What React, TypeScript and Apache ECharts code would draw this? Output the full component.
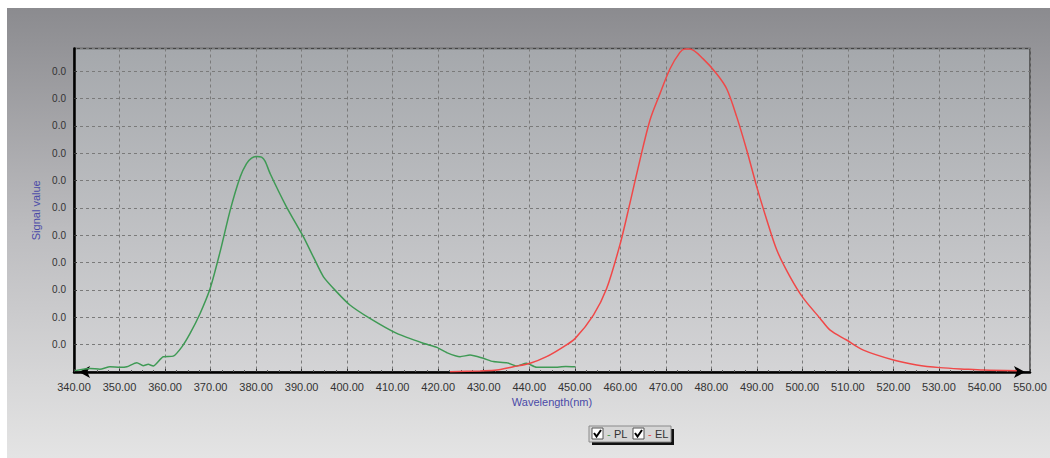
import React, { useEffect, useRef } from "react";
import * as echarts from "echarts";

// ---- Data ----
const plWavelengths = [340.2, 343.5, 345.7, 347.9, 350.1, 351.6, 353.8, 355.2, 356.3, 357.4, 359.6, 361.8, 363.7, 365.5, 367.7, 369.9, 372.1, 374.3, 376.5, 377.9, 379.0, 380.1, 381.2, 382.0, 383.1, 386.7, 390.4, 392.6, 394.8, 397.7, 400.6, 405.0, 410.9, 416.7, 419.7, 422.0, 424.8, 427.0, 429.9, 432.1, 435.1, 437.2, 439.4, 441.6, 445.3, 448.0, 450.1];
const plValues = [0.05, 0.13, 0.1, 0.19, 0.17, 0.19, 0.34, 0.23, 0.28, 0.22, 0.56, 0.58, 0.92, 1.41, 2.14, 3.05, 4.4, 5.91, 7.13, 7.62, 7.82, 7.88, 7.86, 7.7, 7.25, 6.03, 4.94, 4.2, 3.48, 2.93, 2.45, 1.96, 1.41, 1.05, 0.9, 0.7, 0.56, 0.62, 0.5, 0.38, 0.34, 0.22, 0.32, 0.17, 0.17, 0.2, 0.19];

const elWavelengths = [422.6, 429.2, 432.9, 436.5, 440.2, 443.8, 447.5, 450.1, 454.1, 457.0, 460.0, 462.1, 464.3, 466.5, 468.7, 470.9, 473.1, 474.2, 475.3, 478.2, 481.2, 483.4, 485.6, 487.8, 490.0, 492.2, 494.4, 497.3, 500.2, 503.9, 506.1, 509.7, 513.4, 520.0, 525.1, 530.2, 536.1, 539.8, 547.1];
const elValues = [0.01, 0.04, 0.07, 0.19, 0.32, 0.56, 0.92, 1.23, 2.08, 3.05, 4.7, 6.16, 7.74, 9.2, 10.17, 11.08, 11.69, 11.81, 11.81, 11.45, 10.9, 10.35, 9.32, 8.1, 6.76, 5.55, 4.45, 3.48, 2.7, 1.96, 1.53, 1.17, 0.8, 0.44, 0.26, 0.16, 0.1, 0.07, 0.05];

const xMin = 340;
const xMax = 550;
const xInterval = 10;
const yMin = 0;
const yMax = 11.83;
const yInterval = 1;

const seriesNames = ["PL", "EL"];
const seriesColors = ["#3f9a55", "#f04848"];
const xAxisName = "Wavelength(nm)";
const yAxisName = "Signal value";

const FONT = "'Liberation Sans', Arial, sans-serif";

export default function App() {
  const ref = useRef<HTMLDivElement>(null);

  useEffect(() => {
    document.body.style.margin = "0";
    const chart = echarts.init(ref.current!, null, { renderer: "svg" });

    const pl = plWavelengths.map((w, i) => [w, plValues[i]]);
    const el = elWavelengths.map((w, i) => [w, elValues[i]]);

    const checkbox = (x: number) => [
      {
        type: "rect",
        shape: { x, y: 428, width: 11, height: 11 },
        style: { fill: "#ffffff", stroke: "#555", lineWidth: 1 },
      },
      {
        type: "polyline",
        shape: { points: [[x + 2, 433], [x + 4.5, 436.5], [x + 9, 430]] },
        style: { stroke: "#000", lineWidth: 2, fill: "none" },
      },
    ];

    chart.setOption({
      animation: false,
      backgroundColor: "#ffffff",
      graphic: [
        {
          type: "rect",
          z: -10,
          silent: true,
          shape: { x: 7, y: 8, width: 1043, height: 450 },
          style: {
            fill: new echarts.graphic.LinearGradient(0, 0, 0, 1, [
              { offset: 0, color: "#8b8b8f" },
              { offset: 0.5, color: "#bdbdc0" },
              { offset: 1, color: "#e4e4e4" },
            ]),
          },
        },
        // legend box
        {
          type: "rect",
          shape: { x: 592, y: 429, width: 82, height: 16 },
          style: { fill: "#111" },
        },
        {
          type: "rect",
          shape: { x: 589, y: 426, width: 82, height: 16 },
          style: { fill: "#d6d6d6", stroke: "#8a8a8a", lineWidth: 1 },
        },
        ...checkbox(592),
        {
          type: "text",
          x: 607,
          y: 434,
          style: { text: "-", fill: seriesColors[0], font: `11px ${FONT}`, verticalAlign: "middle" },
        },
        {
          type: "text",
          x: 614,
          y: 434,
          style: { text: seriesNames[0], fill: "#333", font: `11px ${FONT}`, verticalAlign: "middle" },
        },
        ...checkbox(633),
        {
          type: "text",
          x: 648,
          y: 434,
          style: { text: "-", fill: seriesColors[1], font: `11px ${FONT}`, verticalAlign: "middle" },
        },
        {
          type: "text",
          x: 655,
          y: 434,
          style: { text: seriesNames[1], fill: "#333", font: `11px ${FONT}`, verticalAlign: "middle" },
        },
      ],
      grid: {
        left: 74,
        top: 48.5,
        width: 956,
        height: 323.5,
        show: true,
        borderColor: "#444",
        borderWidth: 1.5,
        backgroundColor: new echarts.graphic.LinearGradient(0, 0, 0, 1, [
          { offset: 0, color: "#a5a8ac" },
          { offset: 1, color: "#d4d4d6" },
        ]),
      },
      xAxis: {
        type: "value",
        min: xMin,
        max: xMax,
        interval: xInterval,
        name: xAxisName,
        nameLocation: "middle",
        nameGap: 23,
        nameTextStyle: { color: "#4a4aa8", fontSize: 11, fontFamily: FONT },
        axisLine: {
          show: true,
          onZero: false,
          symbol: ["arrow", "arrow"],
          symbolSize: [9, 11],
          symbolOffset: [5, -5],
          lineStyle: { color: "#000", width: 2.5 },
        },
        axisTick: { show: true, inside: true, length: 3, lineStyle: { color: "#333" } },
        minorTick: { show: true, splitNumber: 4, length: 2, lineStyle: { color: "#555" } },
        axisLabel: {
          color: "#333",
          fontSize: 11,
          fontFamily: FONT,
          margin: 9,
          formatter: (v: number) => v.toFixed(2),
        },
        splitLine: { show: true, lineStyle: { color: "#7a7a7a", type: [3, 3], width: 1 } },
      },
      yAxis: {
        type: "value",
        min: yMin,
        max: yMax,
        interval: yInterval,
        name: yAxisName,
        nameLocation: "middle",
        nameGap: 20,
        nameTextStyle: { color: "#4a4aa8", fontSize: 11, fontFamily: FONT },
        axisLine: { show: true, onZero: false, lineStyle: { color: "#000", width: 2.5 } },
        axisTick: { show: true, inside: true, length: 3, lineStyle: { color: "#333" } },
        axisLabel: {
          color: "#333",
          fontSize: 10,
          fontFamily: FONT,
          margin: 8,
          showMinLabel: false,
          showMaxLabel: false,
          formatter: () => "0.0",
        },
        splitLine: { show: true, lineStyle: { color: "#7a7a7a", type: [3, 3], width: 1 } },
      },
      series: [
        {
          name: seriesNames[0],
          type: "line",
          data: pl,
          showSymbol: false,
          smooth: 0.2,
          lineStyle: { color: seriesColors[0], width: 1.5 },
          itemStyle: { color: seriesColors[0] },
        },
        {
          name: seriesNames[1],
          type: "line",
          data: el,
          showSymbol: false,
          smooth: 0.3,
          lineStyle: { color: seriesColors[1], width: 1.5 },
          itemStyle: { color: seriesColors[1] },
        },
      ],
    });

    return () => chart.dispose();
  }, []);

  return (
    <div
      ref={ref}
      style={{ position: "absolute", left: 0, top: 0, width: 1050, height: 458 }}
    />
  );
}
